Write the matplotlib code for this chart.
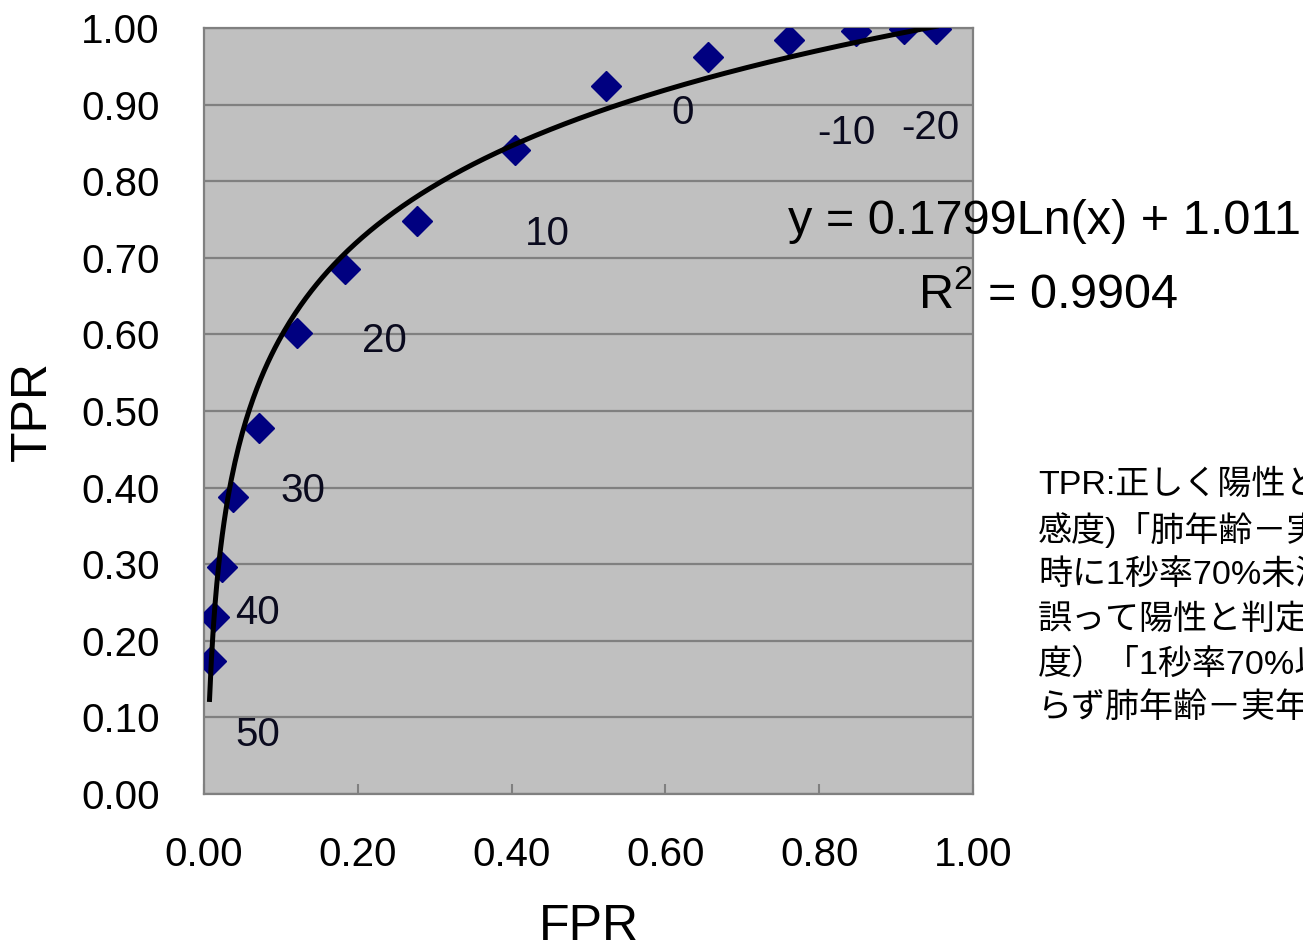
import numpy as np
import matplotlib
matplotlib.use("Agg")
import matplotlib.pyplot as plt

plt.rcParams['font.family'] = ['Liberation Sans', 'Noto Sans CJK JP', 'DejaVu Sans']
plt.rcParams['mathtext.fontset'] = 'custom'
plt.rcParams['mathtext.rm'] = 'Liberation Sans'
plt.rcParams['mathtext.it'] = 'Liberation Sans'

# ROC points (FPR, TPR) for each cut-off of lung age minus real age
fpr = [0.009, 0.013, 0.023, 0.038, 0.072, 0.121, 0.183, 0.277, 0.404,
       0.523, 0.655, 0.761, 0.848, 0.910, 0.952]
tpr = [0.174, 0.231, 0.296, 0.388, 0.478, 0.602, 0.685, 0.748, 0.841,
       0.924, 0.962, 0.984, 0.996, 0.999, 0.999]

# cut-off labels and where they sit
cut_labels = ['50', '40', '30', '20', '10', '0', '-10', '-20']
cut_x = [0.070, 0.070, 0.129, 0.234, 0.446, 0.623, 0.835, 0.945]
cut_y = [0.077, 0.236, 0.396, 0.591, 0.731, 0.889, 0.863, 0.869]

# log trendline from Excel
fit_a = 0.1799
fit_b = 1.011
fit_r2 = 0.9904
fit_xmin = 0.0072

note_lines = [
    'TPR:正しく陽性と判定した率（',
    '感度)「肺年齢－実年齢がX歳以上',
    '時に1秒率70%未満」FPR:',
    '誤って陽性と判定した率（1－特異',
    '度）「1秒率70%以上にもかかわ',
    'らず肺年齢－実年齢がX歳以上」',
]

fig = plt.figure(figsize=(13.03, 9.52), dpi=100)
ax = fig.add_axes([204/1303, 1-794/952, 769/1303, 766/952])
ax.set_facecolor('#C0C0C0')

ax.plot(fpr, tpr, linestyle='none', marker='D', markersize=15,
        color='#000080', zorder=3)

xs = np.linspace(fit_xmin, max(fpr), 400)
ax.plot(xs, fit_a*np.log(xs) + fit_b, color='black', lw=3.6, zorder=4)

for lab, x, y in zip(cut_labels, cut_x, cut_y):
    ax.text(x, y, lab, ha='center', va='center', fontsize=29, color='#0a0a1e')

ax.set_xlim(0, 1)
ax.set_ylim(0, 1)
ax.set_xticks(np.arange(0, 1.01, 0.2))
ax.set_yticks(np.arange(0, 1.01, 0.1))
ax.set_xticklabels(['%.2f' % v for v in np.arange(0, 1.01, 0.2)])
ax.set_yticklabels(['%.2f' % v for v in np.arange(0, 1.01, 0.1)])
ax.tick_params(axis='x', direction='in', length=7, width=1.5, color='#808080',
               labelsize=29, pad=30)
ax.tick_params(axis='y', length=0, labelsize=29, pad=32)
ax.grid(axis='y', color='#808080', lw=1.6)
ax.set_axisbelow(True)
for s in ax.spines.values():
    s.set_color('#808080')
    s.set_linewidth(1.6)

ax.set_xlabel('FPR', fontsize=36, labelpad=22)
ax.set_ylabel('TPR', fontsize=36, labelpad=18)

fig.text(1045/1303, 1-222/952, 'y = %.4fLn(x) + %.3f' % (fit_a, fit_b),
         ha='center', va='center', fontsize=35)
fig.text(1048/1303, 1-295/952, 'R$^2$ = %.4f' % fit_r2,
         ha='center', va='center', fontsize=35)

for i, line in enumerate(note_lines):
    fig.text(1038/1303, 1-(485 + 44.8*i)/952, line, ha='left', va='center',
             fontsize=24.5, family=['Liberation Sans', 'Noto Sans CJK JP'])

fig.savefig('out.png', dpi=100)
